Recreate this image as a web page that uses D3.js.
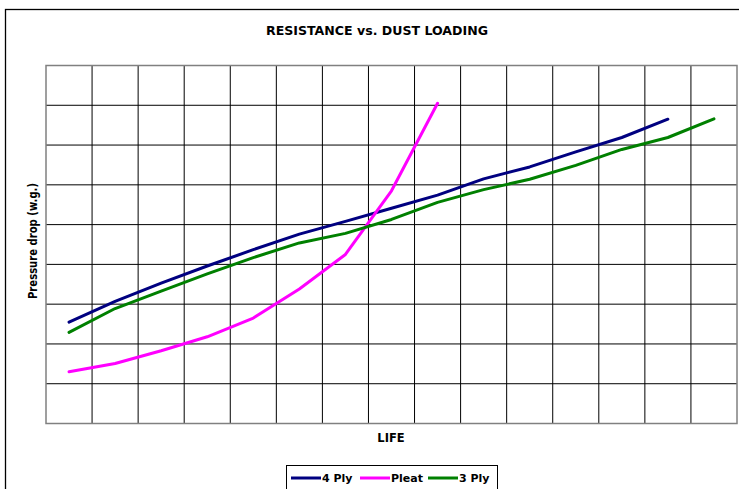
<!DOCTYPE html>
<html>
<head>
  <script src="https://d3js.org/d3.v7.min.js"></script>
  <style>
  body { margin: 0; background: #fff; }
  text { font-family: "DejaVu Sans", sans-serif; font-weight: bold; fill: #000; }
  </style>
</head>
<body>
  <div id="chart"></div>
  <script>
    // data (units = grid rows, axis labels are hidden)
    var life = d3.range(1, 16);
    var ply4 = [2.55, 3.07, 3.53, 3.96, 4.37, 4.76, 5.08, 5.41, 5.74, 6.15, 6.45, 6.83, 7.19, 7.65];
    var pleat = [1.30, 1.51, 1.83, 2.18, 2.65, 3.38, 4.25, 5.85, 8.05];
    var ply3 = [2.29, 2.89, 3.33, 3.76, 4.17, 4.54, 4.78, 5.13, 5.56, 5.88, 6.14, 6.49, 6.89, 7.19, 7.66];
    var seriesNames = ["4 Ply", "Pleat", "3 Ply"];
    var seriesColors = ["#000080", "#ff00ff", "#008000"];

    var width = 739, height = 489;
    var plot = { left: 46, right: 737, top: 65.5, bottom: 423.5 };

    var svg = d3.select("#chart").append("svg")
      .attr("width", width)
      .attr("height", height);

    // chart area border (runs off the right/bottom edge)
    svg.append("rect")
      .attr("x", 5.5).attr("y", 9.5)
      .attr("width", 760).attr("height", 500)
      .attr("fill", "#fff")
      .attr("stroke", "#000").attr("stroke-width", 1.3);

    var xBand = d3.scaleBand().domain(life).range([plot.left, plot.right]);
    var x = d3.scalePoint().domain(life).range([plot.left, plot.right]).padding(0.5);
    var y = d3.scaleLinear().domain([0, 9]).range([plot.bottom, plot.top]);

    // grid
    var g = svg.append("g");
    g.selectAll(".vgrid")
      .data(life.slice(1))
      .enter().append("line")
      .attr("x1", function(d) { return xBand(d); })
      .attr("x2", function(d) { return xBand(d); })
      .attr("y1", plot.top).attr("y2", plot.bottom)
      .attr("stroke", "#000").attr("stroke-width", 1);
    g.selectAll(".hgrid")
      .data(y.ticks(9).slice(1, -1))
      .enter().append("line")
      .attr("x1", plot.left).attr("x2", plot.right)
      .attr("y1", function(d) { return y(d); })
      .attr("y2", function(d) { return y(d); })
      .attr("stroke", "#000").attr("stroke-width", 1);

    g.append("rect")
      .attr("x", plot.left).attr("y", plot.top)
      .attr("width", plot.right - plot.left)
      .attr("height", plot.bottom - plot.top)
      .attr("fill", "none")
      .attr("stroke", "#808080").attr("stroke-width", 1.5);

    // series lines
    var line = d3.line()
      .x(function(d, i) { return x(life[i]); })
      .y(function(d) { return y(d); });

    [ply4, pleat, ply3].forEach(function(s, i) {
      svg.append("path")
        .datum(s)
        .attr("d", line)
        .attr("fill", "none")
        .attr("stroke", seriesColors[i])
        .attr("stroke-width", 3)
        .attr("stroke-linejoin", "round")
        .attr("stroke-linecap", "round");
    });

    // titles
    svg.append("text")
      .attr("x", 377).attr("y", 35)
      .attr("text-anchor", "middle")
      .attr("textLength", 222)
      .attr("lengthAdjust", "spacingAndGlyphs")
      .style("font-size", "11.5px")
      .text("RESISTANCE vs. DUST LOADING");

    svg.append("text")
      .attr("x", 391).attr("y", 442)
      .attr("text-anchor", "middle")
      .style("font-size", "11.5px")
      .text("LIFE");

    svg.append("text")
      .attr("transform", "translate(37,241) rotate(-90)")
      .attr("text-anchor", "middle")
      .attr("textLength", 116)
      .attr("lengthAdjust", "spacingAndGlyphs")
      .style("font-size", "11.5px")
      .text("Pressure drop (w.g.)");

    // legend
    var legend = svg.append("g");
    legend.append("rect")
      .attr("x", 286.5).attr("y", 465.5)
      .attr("width", 211).attr("height", 30)
      .attr("fill", "#fff")
      .attr("stroke", "#000").attr("stroke-width", 1);
    var legX = [291, 360, 428];
    seriesNames.forEach(function(name, i) {
      legend.append("line")
        .attr("x1", legX[i]).attr("x2", legX[i] + 30)
        .attr("y1", 478).attr("y2", 478)
        .attr("stroke", seriesColors[i]).attr("stroke-width", 3);
      legend.append("text")
        .attr("x", legX[i] + 31).attr("y", 482)
        .style("font-size", "11px")
        .text(name);
    });
  </script>
</body>
</html>
